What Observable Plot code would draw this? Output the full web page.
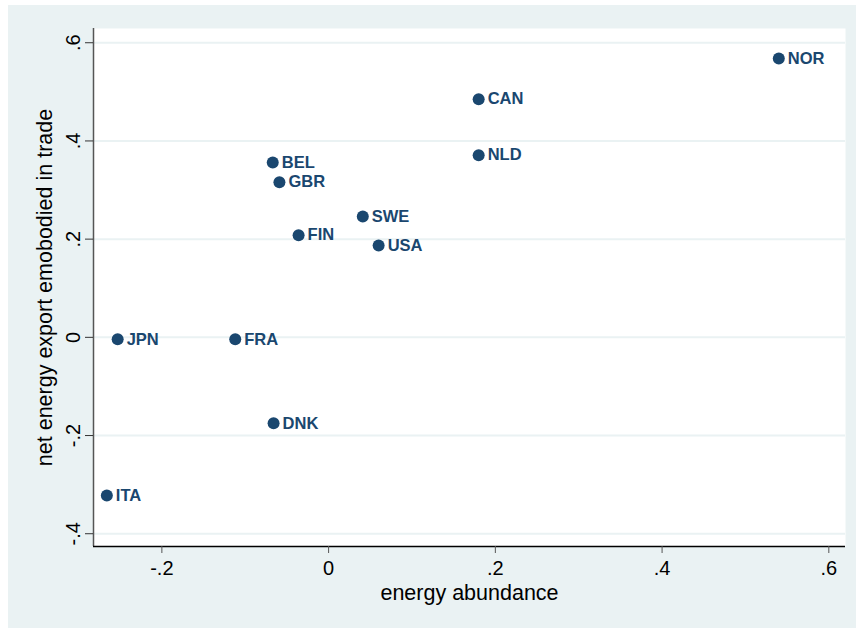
<!DOCTYPE html>
<html>
<head>
<meta charset="utf-8">
<script src="https://cdn.jsdelivr.net/npm/d3@7"></script>
<script src="https://cdn.jsdelivr.net/npm/@observablehq/plot@0.6"></script>
<style>
  html, body { margin: 0; padding: 0; background: #ffffff; }
  #wrap { position: relative; width: 856px; height: 628px; overflow: hidden; }
  #bg { position: absolute; left: 8px; top: 5px; width: 848px; height: 623px; background: #EAF2F3; }
  #chart { position: absolute; left: 0; top: 0; }
</style>
</head>
<body>
<div id="wrap"><div id="bg"></div><div id="chart"></div></div>
<script>
const countries = ["NOR", "CAN", "NLD", "BEL", "GBR", "SWE", "FIN", "USA", "JPN", "FRA", "DNK", "ITA"];
const energyAbundance = [0.540, 0.180, 0.180, -0.067, -0.059, 0.041, -0.036, 0.060, -0.253, -0.112, -0.066, -0.266];
const netEnergyExport = [0.568, 0.485, 0.371, 0.356, 0.316, 0.246, 0.208, 0.187, -0.004, -0.004, -0.175, -0.322];
const xTicks = [-0.2, 0, 0.2, 0.4, 0.6];
const yTicks = [-0.4, -0.2, 0, 0.2, 0.4, 0.6];
const xTitle = "energy abundance";
const yTitle = "net energy export emobodied in trade";

const data = countries.map((c, i) => ({country: c, x: energyAbundance[i], y: netEnergyExport[i]}));
const fmt = v => {
  if (Math.abs(v) < 1e-9) return "0";
  const s = Math.abs(v).toFixed(1).replace(/^0/, "");
  return (v < 0 ? "-" : "") + s;
};

const xDomain = [-0.282, 0.62];
const yDomain = [-0.426, 0.629];
const navy = "#1a476f";
const font = "'Liberation Sans', Arial, Helvetica, sans-serif";

const chart = Plot.plot({
  width: 856,
  height: 628,
  marginLeft: 93,
  marginRight: 11,
  marginTop: 28,
  marginBottom: 82,
  style: {background: "transparent", fontFamily: font, color: "#000"},
  x: {domain: xDomain},
  y: {domain: yDomain},
  marks: [
    Plot.frame({fill: "white", stroke: "none"}),
    Plot.gridY(yTicks, {stroke: "#EAF2F3", strokeOpacity: 1, strokeWidth: 2}),
    Plot.ruleX([xDomain[0]], {stroke: "#555", strokeWidth: 1.5}),
    Plot.ruleY([yDomain[0]], {stroke: "#000", strokeWidth: 1.5}),
    Plot.axisX(xTicks, {tickSize: 7, tickPadding: 7, fontSize: 20, tickFormat: fmt, stroke: "#555",
      label: null}),
    Plot.axisY(yTicks, {tickSize: 8, tickPadding: 6, fontSize: 20, tickFormat: fmt, tickRotate: -90, stroke: "#333",
      label: null}),
    Plot.text([xTitle], {frameAnchor: "bottom", dy: 47, lineAnchor: "middle", fontSize: 21.5, fill: "#000"}),
    Plot.text([yTitle], {frameAnchor: "left", dx: -48, rotate: -90, lineAnchor: "middle", textAnchor: "middle", fontSize: 21.5, fill: "#000"}),
    Plot.dot(data, {x: "x", y: "y", r: 6, fill: navy, stroke: "none"}),
    Plot.text(data, {x: "x", y: "y", text: "country", dx: 9, textAnchor: "start", fill: navy,
      fontWeight: "bold", fontSize: 16.5})
  ]
});
document.getElementById("chart").appendChild(chart);
</script>
</body>
</html>
